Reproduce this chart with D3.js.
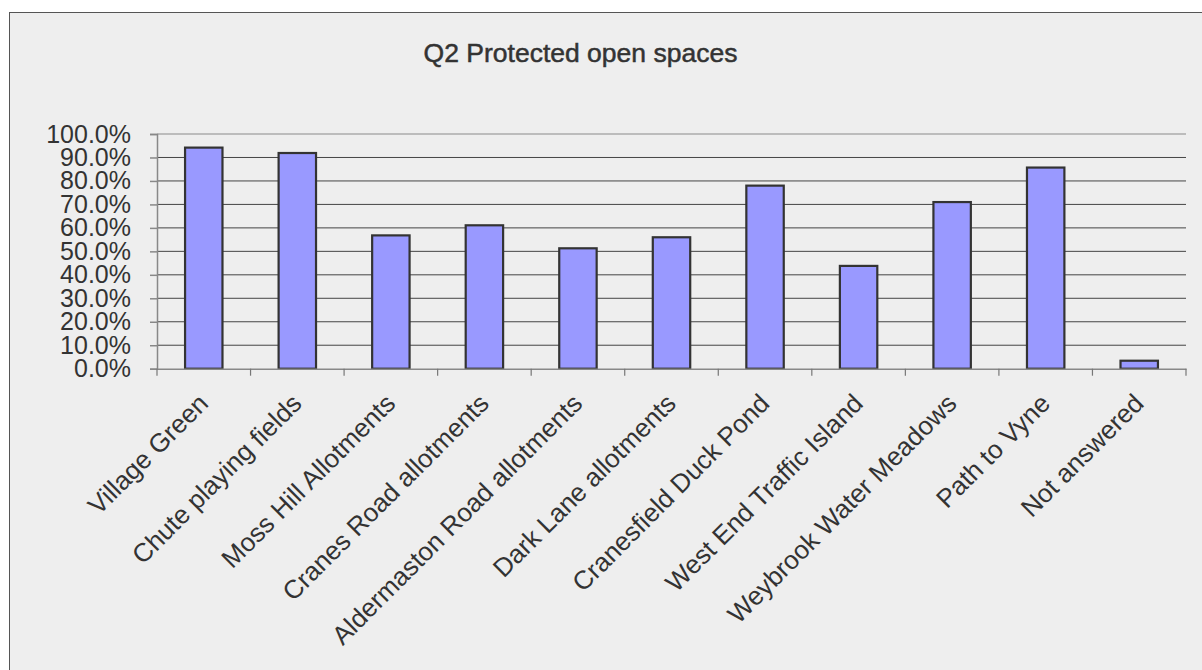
<!DOCTYPE html>
<html>
<head>
<meta charset="utf-8">
<script src="https://cdn.jsdelivr.net/npm/d3@7"></script>
<style>
  html, body { margin: 0; padding: 0; background: #ffffff; }
  svg { display: block; }
  text { font-family: "Liberation Sans", Arial, sans-serif; fill: #333333; }
</style>
</head>
<body>
<svg id="chart" width="1202" height="670"></svg>
<script>
const title = "Q2 Protected open spaces";
const categories = [
  "Village Green",
  "Chute playing fields",
  "Moss Hill Allotments",
  "Cranes Road allotments",
  "Aldermaston Road allotments",
  "Dark Lane allotments",
  "Cranesfield Duck Pond",
  "West End Traffic Island",
  "Weybrook Water Meadows",
  "Path to Vyne",
  "Not answered"
];
const values = [0.942, 0.919, 0.568, 0.611, 0.513, 0.560, 0.780, 0.438, 0.710, 0.857, 0.034];
const yTicks = [0, 0.1, 0.2, 0.3, 0.4, 0.5, 0.6, 0.7, 0.8, 0.9, 1.0];

const svg = d3.select("#chart");
const plot = { left: 157, right: 1186, top: 134, bottom: 368.7 };

// panel
svg.append("rect")
  .attr("x", 9.5).attr("y", 12.5)
  .attr("width", 1220).attr("height", 700)
  .attr("fill", "#eeeeee")
  .attr("stroke", "#555555")
  .attr("stroke-width", 1);

// title
svg.append("text")
  .attr("x", 580.5).attr("y", 62)
  .attr("text-anchor", "middle")
  .attr("font-size", 26.5)
  .attr("stroke", "#333333")
  .attr("stroke-width", 0.5)
  .text(title);

const x = d3.scaleBand().domain(categories).range([plot.left, plot.right]).paddingInner(0).paddingOuter(0);
const y = d3.scaleLinear().domain([0, 1]).range([plot.bottom, plot.top]);

// gridlines
svg.append("g").selectAll("line")
  .data(yTicks.filter(d => d > 0))
  .join("line")
  .attr("x1", plot.left).attr("x2", plot.right)
  .attr("y1", d => y(d)).attr("y2", d => y(d))
  .attr("stroke", d => d === 1 ? "#8a8a8a" : "#444444")
  .attr("stroke-width", 1);

// y axis
const yAxis = svg.append("g")
  .attr("transform", `translate(${plot.left},0)`)
  .call(d3.axisLeft(y).tickValues(yTicks).tickFormat(d3.format(".1%")).tickSize(7).tickPadding(19));
yAxis.select(".domain").attr("stroke", "#888888").attr("stroke-width", 1.5);
yAxis.selectAll(".tick line").attr("stroke", "#888888").attr("stroke-width", 1.5);
yAxis.selectAll(".tick text")
  .attr("font-size", 25)
  .attr("font-family", "Liberation Sans, Arial, sans-serif")
  .attr("fill", "#333333");

// bars
const barW = x.bandwidth() / 2.5;
svg.append("g").selectAll("rect")
  .data(categories.map((c, i) => ({ c, v: values[i] })))
  .join("rect")
  .attr("x", d => x(d.c) + (x.bandwidth() - barW) / 2)
  .attr("width", barW)
  .attr("y", d => y(d.v))
  .attr("height", d => y(0) - y(d.v))
  .attr("fill", "#9999ff")
  .attr("stroke", "#333333")
  .attr("stroke-width", 2.2);

// x axis
const xAxis = svg.append("g")
  .attr("transform", `translate(0,${plot.bottom})`)
  .call(d3.axisBottom(x).tickSize(0).tickFormat(""));
xAxis.select(".domain").attr("stroke", "#888888").attr("stroke-width", 1.5);
xAxis.selectAll(".tick").remove();
const edges = d3.range(categories.length + 1).map(i => plot.left + i * x.step());
xAxis.selectAll("line.edge")
  .data(edges)
  .join("line")
  .attr("class", "edge")
  .attr("x1", d => d).attr("x2", d => d)
  .attr("y1", 0).attr("y2", 7)
  .attr("stroke", "#777777").attr("stroke-width", 1.2);

// x labels
svg.append("g").selectAll("text")
  .data(categories)
  .join("text")
  .attr("transform", d => `translate(${x(d) + x.bandwidth() / 2 + 6},405) rotate(-45)`)
  .attr("text-anchor", "end")
  .attr("font-size", 26)
  .text(d => d);
</script>
</body>
</html>
